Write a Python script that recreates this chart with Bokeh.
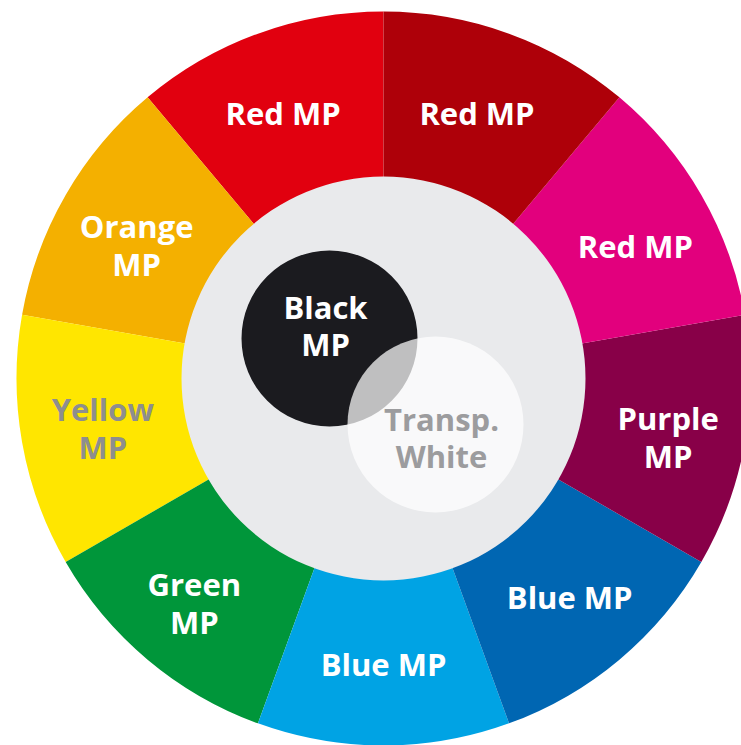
import numpy as np
from bokeh.plotting import figure
from bokeh.models import ColumnDataSource, Range1d
from bokeh.core.properties import value
from bokeh.embed import file_html
from bokeh.resources import INLINE

# ---- data (segments counter-clockwise, starting at 12 o'clock) ----
labels = ["Red MP", "Orange\nMP", "Yellow\nMP", "Green\nMP", "Blue MP",
          "Blue MP", "Purple\nMP", "Red MP", "Red MP"]
shares = [1, 1, 1, 1, 1, 1, 1, 1, 1]
colors = ["#E1000F", "#F4B000", "#FFE600", "#00963A", "#00A3E4",
          "#0066B2", "#880048", "#E2007D", "#AE0009"]
label_colors = ["#FFFFFF", "#FFFFFF", "#8E8E8E", "#FFFFFF", "#FFFFFF",
                "#FFFFFF", "#FFFFFF", "#FFFFFF", "#FFFFFF"]

center_labels = ["Black\nMP", "Transp.\nWhite"]
center_fill = ["#1B1B1F", "#FFFFFF"]
center_alpha = [1.0, 0.72]
center_text_colors = ["#FFFFFF", "#9C9C9E"]

# ---- layout ----
OUTER_R = 367
INNER_R = 202
LABEL_R = 285
# small pixel nudges of the segment labels (layout only)
nudge_x = [-3, 0, 0, -6, 0, 3, 4, 5, -4]
nudge_y = [-2, -9, 0, -6, 0, 0, -9, -10, -2]
disc_x = [-54, 52]
disc_y = [40, -46]
disc_r = [88, 88]
disc_text_x = [-58, 58]
disc_text_y = [53, -59]

W, H = 741, 745
total = float(sum(shares))
frac = np.array(shares) / total
ends_cum = np.cumsum(frac)
starts = np.pi / 2 + 2 * np.pi * (ends_cum - frac)
ends = np.pi / 2 + 2 * np.pi * ends_cum
mids = (starts + ends) / 2

src = ColumnDataSource(dict(
    start=starts, end=ends, color=colors, label=labels,
    lx=LABEL_R * np.cos(mids) + np.array(nudge_x),
    ly=LABEL_R * np.sin(mids) + np.array(nudge_y),
    lcolor=label_colors,
))

p = figure(width=W, height=H, output_backend="svg", toolbar_location=None,
           x_range=Range1d(-383, 358), y_range=Range1d(-367, 378),
           min_border=0)
p.axis.visible = False
p.grid.visible = False
p.outline_line_color = None
p.background_fill_color = "#FFFFFF"
p.border_fill_color = "#FFFFFF"

p.annular_wedge(x=0, y=0, inner_radius=INNER_R - 5, outer_radius=OUTER_R,
                start_angle="start", end_angle="end", fill_color="color",
                line_color=None, source=src)
p.circle(x=[0], y=[0], radius=INNER_R, fill_color="#E9EAEC", line_color=None)

csrc = ColumnDataSource(dict(x=disc_x, y=disc_y, r=disc_r, fill=center_fill,
                             alpha=center_alpha, tx=disc_text_x, ty=disc_text_y,
                             label=center_labels, tcolor=center_text_colors))
p.circle(x="x", y="y", radius="r", fill_color="fill", fill_alpha="alpha",
         line_color=None, source=csrc)

p.text(x="lx", y="ly", text="label", text_color="lcolor", source=src,
       text_font=value("Open Sans"), text_font_style="bold",
       text_font_size="31px", text_align="center", text_baseline="middle",
       text_line_height=0.9)
p.text(x="tx", y="ty", text="label", text_color="tcolor", source=csrc,
       text_font=value("Open Sans"), text_font_style="bold",
       text_font_size="31px", text_align="center", text_baseline="middle",
       text_line_height=0.9)

open("out.html", "w").write(file_html(p, INLINE))
